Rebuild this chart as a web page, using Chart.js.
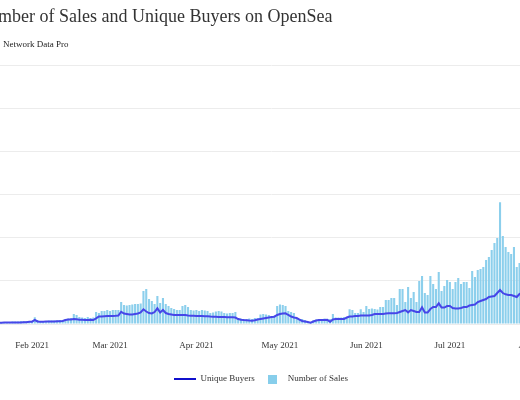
<!DOCTYPE html>
<html>
<head>
<meta charset="utf-8">
<script src="https://cdn.jsdelivr.net/npm/chart.js@4.4.1/dist/chart.umd.min.js"></script>
<style>
  html, body { margin: 0; padding: 0; background: #ffffff; overflow: hidden; width: 520px; height: 400px; }
  #wrap { position: absolute; left: -24px; top: 0; width: 570px; height: 400px; }
</style>
</head>
<body>
<div id="wrap"><canvas id="c"></canvas></div>
<script>
// Daily series, starting 2021-01-20
const startDate = '2021-01-20';
const dayCount = 197;
const uniqueBuyers = [
  300,300,320,320,350,350,350,370,370,390,420,
  530,530,930,580,
  530,530,560,580,580,600,630,650,
  700,930,1040,1040,1160,1090,
  1000,970,930,930,970,930,1320,
  1740,1740,1810,1860,1860,1860,1900,1970,
  2850,2440,2320,2200,2200,2320,2440,2670,
  3410,2900,2550,2440,2780,3640,2670,3250,2550,
  2320,2200,2090,2090,2090,2090,2090,1970,
  1930,1900,1860,1860,1860,1810,1810,
  1740,1690,1670,1620,1620,1620,1580,1550,1550,1510,
  1160,1000,930,880,810,770,880,1040,
  1160,1280,1390,1510,1620,1690,
  2090,2320,2440,2480,2090,1740,1510,1390,
  1040,700,580,460,300,580,
  810,930,930,930,970,
  530,1040,1160,1160,1160,1160,1510,1740,1740,1860,1860,1970,1970,1970,1970,2090,
  2320,2320,2320,2320,2440,2480,2480,2480,2550,2780,3020,3250,2710,3250,3020,2780,
  2780,3870,2670,2670,3480,3940,3940,4800,3830,3830,4180,4180,3710,3600,3600,3710,
  3940,3940,4290,4410,4520,5100,5340,5570,5800,6260,6380,6500,7190,7890,7190,6890,
  6730,6730,6500,6260,6960,6730,6730
];
const numberOfSales = [
  460,460,460,460,460,580,580,580,700,700,700,700,
  700,1550,930,
  700,700,700,810,810,810,810,930,930,
  1160,1280,1390,2320,2090,
  1620,1510,1390,1620,1390,1510,
  2780,2550,3020,
  3020,3250,3020,3250,3250,3250,
  5100,
  4410,4290,4410,4520,4640,4640,4760,
  7660,8120,5800,5340,4640,6500,4870,6030,4640,4180,3710,3480,3250,3250,4180,4410,3940,
  3250,3130,3250,3020,3250,3130,3020,
  2550,2670,2900,3020,2900,
  2550,2440,2550,2550,2780,
  1390,1280,1160,1160,1280,1160,1390,1390,
  2200,2320,2200,2090,1860,1970,
  4180,4520,4410,4180,3020,2780,2550,
  1390,1160,1160,930,460,350,
  930,1040,1160,1160,1280,1160,
  1160,2320,1510,1510,
  1510,1620,1390,3410,3250,2550,2550,3410,2780,4180,
  3480,3600,3480,3360,3940,3940,
  5570,5570,6030,6030,4410,
  8120,8120,5100,8580,6030,7420,5100,9980,11140,7190,6730,11140,9280,8120,12060,7660,
  8820,10210,9740,8120,9740,10670,9280,9740,9740,8350,12300,10900,12530,12760,13220,14850,
  15540,17170,18790,19950,28300,20420,17860,16700,16240,17860,13220,14150,13920,15080
];
const tickDates = ['2021-02-01','2021-03-01','2021-04-01','2021-05-01','2021-06-01','2021-07-01','2021-08-01'];
const tickLabels = ['Feb 2021','Mar 2021','Apr 2021','May 2021','Jun 2021','Jul 2021','Aug 2021'];
const yTicks = [0, 10000, 20000, 30000, 40000, 50000, 60000];

const categories = [];
{
  const d0 = new Date(startDate + 'T00:00:00Z');
  for (let i = 0; i < dayCount; i++) {
    const d = new Date(d0.getTime() + i * 86400000);
    categories.push(d.toISOString().slice(0, 10));
  }
}

const serif = "'Liberation Serif', 'Times New Roman', 'DejaVu Serif', serif";
const lineColor = '#4646e8';
const barColor = '#8ccfec';

function makeIcon(w, h, color) {
  const cv = document.createElement('canvas');
  cv.width = w; cv.height = h;
  const cx = cv.getContext('2d');
  cx.fillStyle = color;
  cx.fillRect(0, 0, w, h);
  return cv;
}
const lineIcon = makeIcon(22, 2, '#1010cc');
const boxIcon = makeIcon(9, 9, '#87ceeb');

new Chart(document.getElementById('c'), {
  type: 'bar',
  data: {
    labels: categories,
    datasets: [
      {
        type: 'line',
        label: 'Unique Buyers',
        data: uniqueBuyers,
        borderColor: lineColor,
        backgroundColor: lineColor,
        borderWidth: 2,
        pointRadius: 0,
        tension: 0,
        fill: false
      },
      {
        type: 'bar',
        label: 'Number of Sales',
        data: numberOfSales,
        backgroundColor: barColor,
        borderWidth: 0,
        barPercentage: 0.75,
        categoryPercentage: 1.0
      }
    ]
  },
  options: {
    responsive: true,
    maintainAspectRatio: false,
    animation: false,
    layout: { padding: { left: 0, right: 0, top: 0, bottom: 6.5 } },
    plugins: {
      tooltip: { enabled: false },
      title: {
        display: true,
        text: 'Number of Sales and Unique Buyers on OpenSea',
        align: 'start',
        color: '#333333',
        font: { family: serif, size: 18, weight: 'normal', lineHeight: 1.2 },
        padding: { top: 6, bottom: 12 }
      },
      subtitle: {
        display: true,
        text: '            Network Data Pro',
        align: 'start',
        color: '#222222',
        font: { family: serif, size: 9, weight: 'normal', lineHeight: 1.2 },
        padding: { top: 0, bottom: 15.3 }
      },
      legend: {
        display: true,
        position: 'bottom',
        labels: {
          usePointStyle: true,
          pointStyleWidth: 22,
          padding: 6.5,
          color: '#333333',
          font: { family: serif, size: 9 },
          generateLabels: function (chart) {
            const items = Chart.defaults.plugins.legend.labels.generateLabels(chart);
            items[0].pointStyle = lineIcon;
            items[1].pointStyle = boxIcon;
            return items;
          }
        }
      }
    },
    scales: {
      x: {
        offset: true,
        grid: { display: false, drawTicks: true, tickLength: 16.6 },
        border: { display: false },
        title: { display: true, text: '', padding: { top: 16.6, bottom: 0 }, font: { size: 1, lineHeight: 0 } },
        ticks: {
          autoSkip: false,
          maxRotation: 0,
          minRotation: 0,
          padding: 0,
          color: '#333333',
          font: { family: serif, size: 9 },
          callback: function (value) {
            const d = this.getLabelForValue(value);
            const j = tickDates.indexOf(d);
            return j >= 0 ? tickLabels[j] : '';
          }
        }
      },
      y: {
        min: yTicks[0],
        max: yTicks[yTicks.length - 1],
        afterBuildTicks: function (scale) { scale.ticks = yTicks.map(v => ({ value: v })); },
        afterFit: function (scale) { scale.width = 21.2; },
        grid: { color: '#ececec', lineWidth: 1, drawTicks: false },
        border: { display: false },
        ticks: { display: false }
      }
    }
  }
});
</script>
</body>
</html>
